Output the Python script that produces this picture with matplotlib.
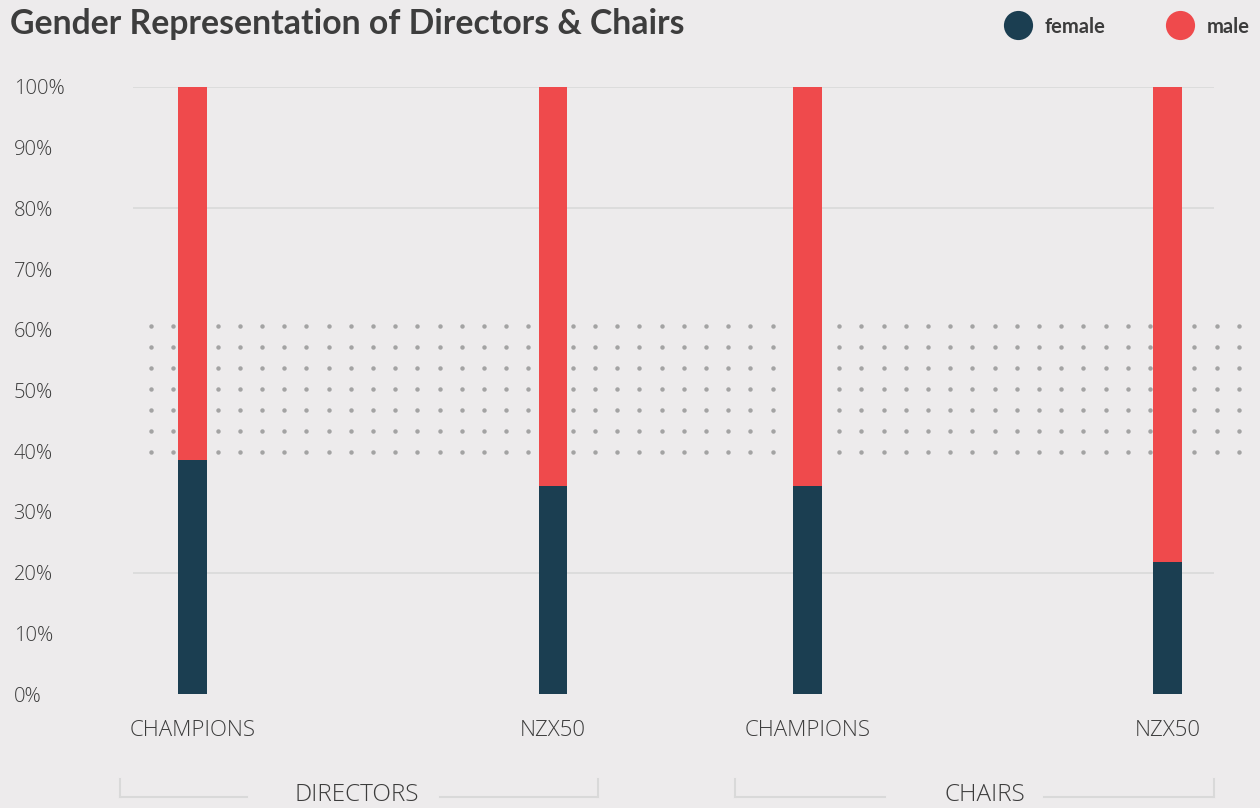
import numpy as np
import matplotlib.pyplot as plt
from matplotlib.lines import Line2D

# categories and shares (%)
categories = ["CHAMPIONS", "NZX50", "CHAMPIONS", "NZX50"]
groups = ["DIRECTORS", "CHAIRS"]
female = [38.5, 34.3, 34.3, 21.7]
male = [100 - f for f in female]
yticks = list(range(0, 101, 10))

BG = "#edebec"
FEMALE = "#1b3e51"
MALE = "#ef4a4c"
TEXT = "#3c3c3c"
GRID = "#d9d9d9"
DOT = "#a3a3a3"

W, H = 1260, 808
plt.rcParams["font.family"] = ["Lato", "DejaVu Sans"]
LIGHT = dict(family=["Open Sans", "DejaVu Sans"], fontweight="light", color=TEXT)


def px(x, y):
    # pixel position -> figure fraction
    return x / W, 1 - y / H


fig = plt.figure(figsize=(W / 100, H / 100), dpi=100, facecolor=BG)
left, top = px(133, 87)
right, bottom = px(1214, 694)
ax = fig.add_axes([left, bottom, right - left, top - bottom], facecolor=BG)

# bar slots: two groups, wider gap between the bars inside a group
pos = np.array([0.0, 1.0, 1.707, 2.706])
ax.set_xlim(-0.165, 2.834)
ax.set_ylim(0, 100)

for g in (20, 80, 100):
    ax.axhline(g, color=GRID, lw=1.2, zorder=0)

# 40-60% target band as a dot grid
dx = np.linspace(-0.115, 2.903, 50)
dy = np.linspace(39.8, 60.6, 7)
gx, gy = np.meshgrid(dx, dy)
ax.plot(gx.ravel(), gy.ravel(), "o", ms=3.2, color=DOT, mew=0,
        clip_on=False, zorder=1)

ax.bar(pos, female, width=0.08, color=FEMALE, zorder=3)
ax.bar(pos, male, width=0.08, bottom=female, color=MALE, zorder=3)

for s in ax.spines.values():
    s.set_visible(False)
ax.set_yticks(yticks)
ax.set_yticklabels([f"{t}%" for t in yticks], ha="left", fontsize=14.5, **LIGHT)
ax.tick_params(axis="y", length=0, pad=86)
ax.set_xticks(pos)
ax.set_xticklabels(categories, fontsize=16, **LIGHT)
ax.tick_params(axis="x", length=0, pad=19)

# group brackets under the category labels
for label, (x0, x1), (g0, g1), cx in [
    ("DIRECTORS", (120, 598), (247, 440), 357),
    ("CHAIRS", (735, 1214), (885, 1044), 985),
]:
    for seg in ((x0, g0), (g1, x1)):
        xs = [px(seg[0], 0)[0], px(seg[1], 0)[0]]
        fig.add_artist(Line2D(xs, [px(0, 797)[1]] * 2, color=GRID, lw=1.5))
    for xe in (x0, x1):
        fig.add_artist(Line2D([px(xe, 0)[0]] * 2, [px(0, 779)[1], px(0, 797)[1]],
                              color=GRID, lw=1.5))
    fig.text(*px(cx, 795), label, ha="center", va="center", fontsize=17.5, **LIGHT)

fig.text(*px(10, 24), "Gender Representation of Directors & Chairs",
         ha="left", va="center", fontsize=24.3, fontweight="bold", color="#3d3d3d")

# legend
for x, lab, col in [(1018, "female", FEMALE), (1180, "male", MALE)]:
    fig.add_artist(Line2D([px(x, 0)[0]], [px(0, 25)[1]], marker="o", ms=21,
                          color=col, mew=0))
    fig.text(*px(x + 27, 27), lab, ha="left", va="center", fontsize=14.5,
             fontweight="bold", color=TEXT)

fig.savefig("out.png", dpi=100, facecolor=BG)
